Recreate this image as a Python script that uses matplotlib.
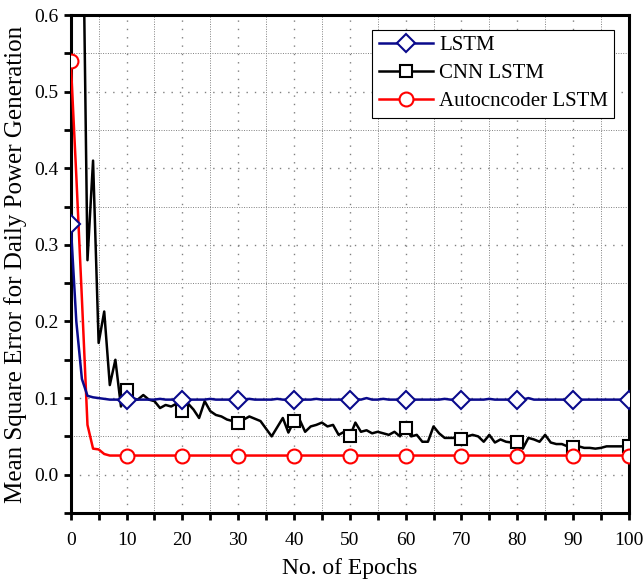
import numpy as np
import matplotlib
matplotlib.use('Agg')
from matplotlib import pyplot as plt
from matplotlib.ticker import MultipleLocator, FormatStrFormatter

plt.rcParams['font.family'] = ['Liberation Serif', 'DejaVu Serif']

epochs = np.arange(0, 101)

lstm = [0.327, 0.20, 0.125, 0.103, 0.101, 0.100, 0.099, 0.098, 0.098, 0.098,
        0.098, 0.099, 0.098, 0.098, 0.098, 0.098, 0.099, 0.098, 0.098, 0.098,
        0.098, 0.098, 0.098, 0.098, 0.098, 0.099, 0.098, 0.098, 0.098, 0.098,
        0.098, 0.098, 0.099, 0.098, 0.098, 0.098, 0.098, 0.099, 0.098, 0.098,
        0.098, 0.098, 0.098, 0.098, 0.099, 0.098, 0.098, 0.098, 0.098, 0.098,
        0.098, 0.099, 0.098, 0.100, 0.098, 0.098, 0.099, 0.098, 0.098, 0.098,
        0.098, 0.098, 0.098, 0.098, 0.098, 0.098, 0.098, 0.099, 0.098, 0.098,
        0.098, 0.098, 0.098, 0.098, 0.098, 0.099, 0.098, 0.098, 0.098, 0.098,
        0.098, 0.098, 0.100, 0.098, 0.098, 0.098, 0.098, 0.098, 0.098, 0.098,
        0.098, 0.098, 0.098, 0.098, 0.098, 0.098, 0.098, 0.098, 0.098, 0.098,
        0.098]

cnn_lstm = [0.95, 0.90, 0.84, 0.28, 0.41, 0.172, 0.213, 0.117, 0.150, 0.089,
            0.111, 0.100, 0.098, 0.104, 0.098, 0.096, 0.087, 0.091, 0.089, 0.093,
            0.083, 0.093, 0.085, 0.074, 0.096, 0.083, 0.078, 0.076, 0.072, 0.070,
            0.068, 0.072, 0.076, 0.073, 0.070, 0.060, 0.050, 0.062, 0.074, 0.055,
            0.070, 0.072, 0.056, 0.063, 0.065, 0.068, 0.063, 0.065, 0.052, 0.056,
            0.050, 0.068, 0.056, 0.058, 0.054, 0.056, 0.054, 0.052, 0.056, 0.050,
            0.061, 0.050, 0.052, 0.043, 0.043, 0.063, 0.054, 0.048, 0.048, 0.048,
            0.047, 0.050, 0.052, 0.050, 0.043, 0.052, 0.042, 0.046, 0.043, 0.042,
            0.043, 0.034, 0.048, 0.046, 0.043, 0.052, 0.042, 0.040, 0.040, 0.037,
            0.036, 0.037, 0.035, 0.035, 0.034, 0.035, 0.037, 0.037, 0.037, 0.037,
            0.037]

autoenc_lstm = [0.54, 0.39, 0.23, 0.065, 0.034, 0.033, 0.027, 0.025] + [0.025] * 93

fig = plt.figure(figsize=(6.43, 5.79), dpi=100)
ax = fig.add_axes([0.110, 0.114, 0.868, 0.860])

ax.plot(epochs, cnn_lstm, color='black', lw=1.8, marker='s', markevery=10,
        ms=8, mfc='white', mec='black', mew=1.5, label='CNN LSTM', zorder=3)
ax.plot(epochs, autoenc_lstm, color='#ff0000', lw=1.8, marker='o', markevery=10,
        ms=10, mfc='white', mec='#ff0000', mew=1.5, label='Autocncoder LSTM', zorder=4)
ax.plot(epochs, lstm, color='#0a0a8c', lw=1.8, marker='D', markevery=10,
        ms=9, mfc='white', mec='#0a0a8c', mew=1.5, label='LSTM', zorder=5)

ax.set_xlim(0, 100)
ax.set_ylim(-0.05, 0.6)
ax.xaxis.set_major_locator(MultipleLocator(10))
ax.xaxis.set_minor_locator(MultipleLocator(5))
ax.yaxis.set_major_locator(MultipleLocator(0.1))
ax.yaxis.set_minor_locator(MultipleLocator(0.05))
ax.yaxis.set_major_formatter(FormatStrFormatter('%.1f'))
ax.set_yticks(np.arange(0, 0.61, 0.1))

ax.grid(which='major', color='gray', linestyle=(0, (1, 5)), lw=1.0)
ax.grid(which='minor', color='gray', linestyle=(0, (1, 1.5)), lw=0.7)

ax.tick_params(which='both', direction='out', length=5, width=2, labelsize=14,
               top=False, right=False)
ax.tick_params(axis='x', which='major', pad=9)
ax.tick_params(axis='y', which='major', pad=4)
for s in ax.spines.values():
    s.set_linewidth(2.2)

ax.set_xlabel('No. of Epochs', fontsize=17, labelpad=6)
ax.set_ylabel('Mean Square Error for Daily Power Generation', fontsize=18, labelpad=5)

handles, labels = ax.get_legend_handles_labels()
order = [2, 0, 1]
leg = ax.legend([handles[i] for i in order], [labels[i] for i in order],
                loc='upper right', fontsize=15, frameon=True, fancybox=False,
                edgecolor='black', framealpha=1, handlelength=2.6,
                labelspacing=0.4, borderaxespad=0.7, handletextpad=0.3,
                borderpad=0.3)
leg.get_frame().set_linewidth(0.8)

fig.savefig('out.png', dpi=100)
